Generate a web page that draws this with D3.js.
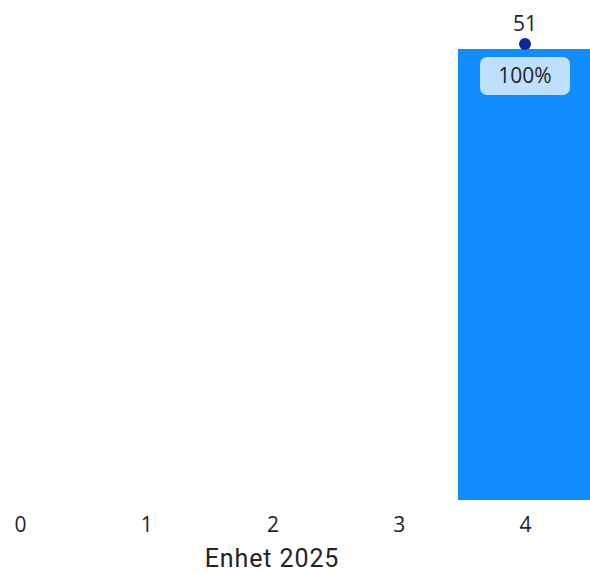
<!DOCTYPE html>
<html><head><meta charset="utf-8">
<script src="https://cdn.jsdelivr.net/npm/d3@7"></script>
<style>body{margin:0;background:#fff}svg{display:block}</style>
</head><body>
<script>
const categories = ["0","1","2","3","4"];
const values = [null, null, null, null, 51];
const shares = [null, null, null, null, "100%"];
const xTitle = "Enhet 2025";

const W = 590, H = 574;
const svg = d3.select("body").append("svg").attr("width", W).attr("height", H);

const x = d3.scalePoint().domain(categories).range([20, 525]);
const y = d3.scaleLinear().domain([0, 51]).range([500, 49]);
const barW = 134;

const data = categories.map((c, i) => ({c, v: values[i], s: shares[i]})).filter(d => d.v != null);

svg.selectAll("rect.bar").data(data).join("rect")
  .attr("class", "bar")
  .attr("x", d => x(d.c) - barW / 2)
  .attr("y", d => y(d.v))
  .attr("width", barW)
  .attr("height", d => y(0) - y(d.v))
  .attr("fill", "#118DFF");

svg.selectAll("circle.dot").data(data).join("circle")
  .attr("cx", d => x(d.c)).attr("cy", d => y(d.v) - 5)
  .attr("r", 6).attr("fill", "#12239E");

svg.selectAll("text.val").data(data).join("text")
  .attr("x", d => x(d.c)).attr("y", d => y(d.v) - 18)
  .attr("text-anchor", "middle")
  .attr("font-family", "'Open Sans', sans-serif").attr("font-size", 21)
  .attr("fill", "#252423").text(d => d.v);

const lab = svg.selectAll("g.lab").data(data).join("g").attr("class", "lab");
lab.append("rect")
  .attr("x", d => x(d.c) - 45).attr("y", d => y(d.v) + 8)
  .attr("width", 90).attr("height", 38).attr("rx", 7)
  .attr("fill", "#BFDFFF");
lab.append("text")
  .attr("x", d => x(d.c)).attr("y", d => y(d.v) + 34)
  .attr("text-anchor", "middle")
  .attr("font-family", "'Open Sans', sans-serif").attr("font-size", 21)
  .attr("fill", "#252423").text(d => d.s);

const ax = svg.append("g").attr("transform", "translate(0,500)")
  .call(d3.axisBottom(x).tickSize(0).tickPadding(17));
ax.select(".domain").remove();
ax.selectAll("text").attr("font-family", "'Open Sans', sans-serif")
  .attr("font-size", 21).attr("fill", "#252423");

svg.append("text").attr("x", 272).attr("y", 567)
  .attr("text-anchor", "middle")
  .attr("font-family", "Roboto, sans-serif").attr("font-size", 25)
  .attr("letter-spacing", 0.9)
  .attr("fill", "#252423").text(xTitle);
</script>
</body></html>
